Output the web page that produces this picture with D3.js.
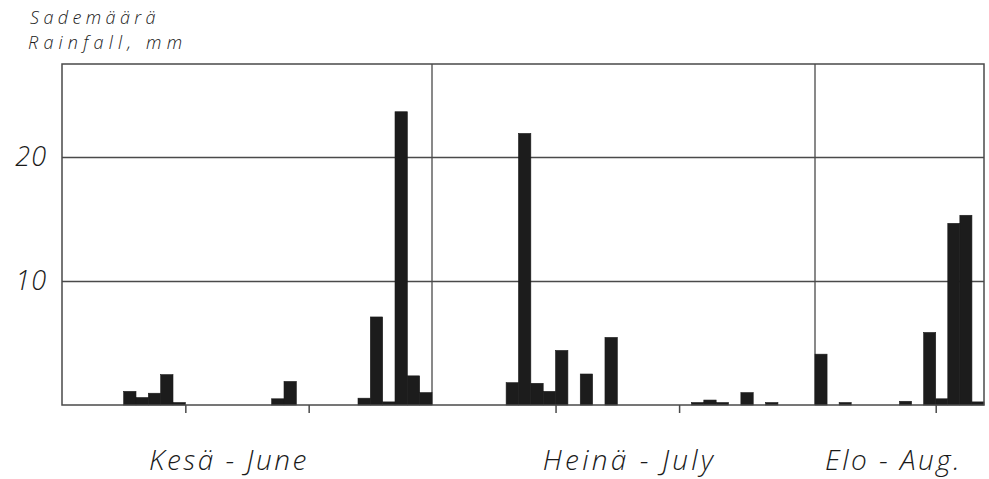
<!DOCTYPE html>
<html>
<head>
<meta charset="utf-8">
<script src="https://cdn.jsdelivr.net/npm/d3@7/dist/d3.min.js"></script>
<style>
  html, body { margin: 0; padding: 0; background: #fff; }
  svg { display: block; }
  .hand { font-family: "Open Sans", "DejaVu Sans", sans-serif; font-style: italic; font-weight: 300; fill: #1a1a1a; }
</style>
</head>
<body>
<svg id="chart" width="989" height="479"></svg>
<script>
// Months shown on the time axis and their number of days on the chart
const monthLabels = ["Kesä - June", "Heinä - July", "Elo - Aug."];
const monthDays = [30, 31, 14];

// Daily rainfall: month index, day of month, millimetres
const rainMonth = [0, 0, 0, 0, 0, 0, 0, 0, 0, 0, 0, 0, 0,
                   1, 1, 1, 1, 1, 1, 1, 1, 1, 1, 1, 1,
                   2, 2, 2, 2, 2, 2, 2, 2];
const rainDate  = [6, 7, 8, 9, 10, 18, 19, 25, 26, 27, 28, 29, 30,
                   7, 8, 9, 10, 11, 13, 15, 22, 23, 24, 26, 28,
                   1, 3, 8, 10, 11, 12, 13, 14];
const rainMm    = [1.1, 0.6, 0.95, 2.45, 0.2, 0.5, 1.9, 0.55, 7.1, 0.25, 23.65, 2.35, 1.0,
                   1.8, 21.9, 1.75, 1.1, 4.4, 2.5, 5.45, 0.2, 0.4, 0.2, 1.0, 0.2,
                   4.1, 0.2, 0.3, 5.85, 0.5, 14.65, 15.3, 0.25];

// Axis values
const yTicks = [10, 20];
const dayTicks = [10, 20];
const titleLines = ["Sademäärä", "Rainfall, mm"];

const svg = d3.select("#chart");
const plotLeft = 62, plotRight = 984, plotTop = 64, plotBottom = 405;

// Cumulative day offsets of month starts
const monthStart = [0];
monthDays.forEach((d, i) => monthStart.push(monthStart[i] + d));

// Piecewise day scale: each month keeps its own hand-drawn width
const x = d3.scaleLinear()
  .domain(monthStart)
  .range([plotLeft, 432, 815, plotRight]);

const y = d3.scaleLinear().domain([0, 27.5]).range([plotBottom, plotTop]);

const ink = "#4a4a4a";

// Horizontal grid lines with value labels
const yAxis = d3.axisLeft(y)
  .tickValues(yTicks)
  .tickSize(-(plotRight - plotLeft))
  .tickPadding(14)
  .tickFormat(d3.format("d"));
const gy = svg.append("g").attr("transform", `translate(${plotLeft},0)`).call(yAxis);
gy.select(".domain").remove();
gy.selectAll(".tick line").attr("stroke", ink).attr("stroke-width", 1.3);
gy.selectAll(".tick text")
  .attr("class", "hand")
  .attr("font-size", 27)
  .attr("letter-spacing", 1)
  .attr("dy", "0.32em")
  .attr("x", -15);

// Month divider lines
svg.append("g").selectAll("line")
  .data(monthStart.slice(1, -1))
  .join("line")
  .attr("x1", d => x(d)).attr("x2", d => x(d))
  .attr("y1", plotTop).attr("y2", plotBottom)
  .attr("stroke", ink).attr("stroke-width", 1.3);

// Ten-day ticks under the baseline
const tickPositions = [];
monthStart.slice(0, -1).forEach((s, i) => {
  dayTicks.forEach(t => { if (t < monthDays[i]) tickPositions.push(s + t); });
});
const xAxis = d3.axisBottom(x)
  .tickValues(tickPositions)
  .tickSize(8)
  .tickFormat("");
const gx = svg.append("g").attr("transform", `translate(0,${plotBottom})`).call(xAxis);
gx.select(".domain").remove();
gx.selectAll(".tick line").attr("stroke", ink).attr("stroke-width", 1.5);

// Daily rainfall bars
const bars = rainMm.map((v, i) => ({ day: monthStart[rainMonth[i]] + rainDate[i] - 1, mm: v }));
svg.append("g").selectAll("rect")
  .data(bars)
  .join("rect")
  .attr("x", d => x(d.day))
  .attr("width", d => x(d.day + 1) - x(d.day))
  .attr("y", d => y(d.mm))
  .attr("height", d => y(0) - y(d.mm))
  .attr("fill", "#1c1c1c")
  .attr("stroke", "#1c1c1c")
  .attr("stroke-width", 0.6);

// Frame
svg.append("rect")
  .attr("x", plotLeft).attr("y", plotTop)
  .attr("width", plotRight - plotLeft).attr("height", plotBottom - plotTop)
  .attr("fill", "none").attr("stroke", ink).attr("stroke-width", 1.5);

// Month names under the axis
const labelShift = [-18, 6, -6];
svg.append("g").selectAll("text")
  .data(monthLabels)
  .join("text")
  .attr("class", "hand")
  .attr("x", (d, i) => (x(monthStart[i]) + x(monthStart[i + 1])) / 2 + labelShift[i])
  .attr("y", 470)
  .attr("text-anchor", "middle")
  .attr("font-size", 28)
  .attr("letter-spacing", (d, i) => i === 1 ? 3.2 : 2.5)
  .text(d => d);

// Axis title
svg.append("g").selectAll("text")
  .data(titleLines)
  .join("text")
  .attr("class", "hand")
  .attr("font-size", 18)
  .attr("x", (d, i) => i === 0 ? 30 : 28)
  .attr("y", (d, i) => i === 0 ? 24 : 48.5)
  .attr("letter-spacing", (d, i) => i === 0 ? 4.4 : 5.2)
  .text(d => d);
</script>
</body>
</html>
